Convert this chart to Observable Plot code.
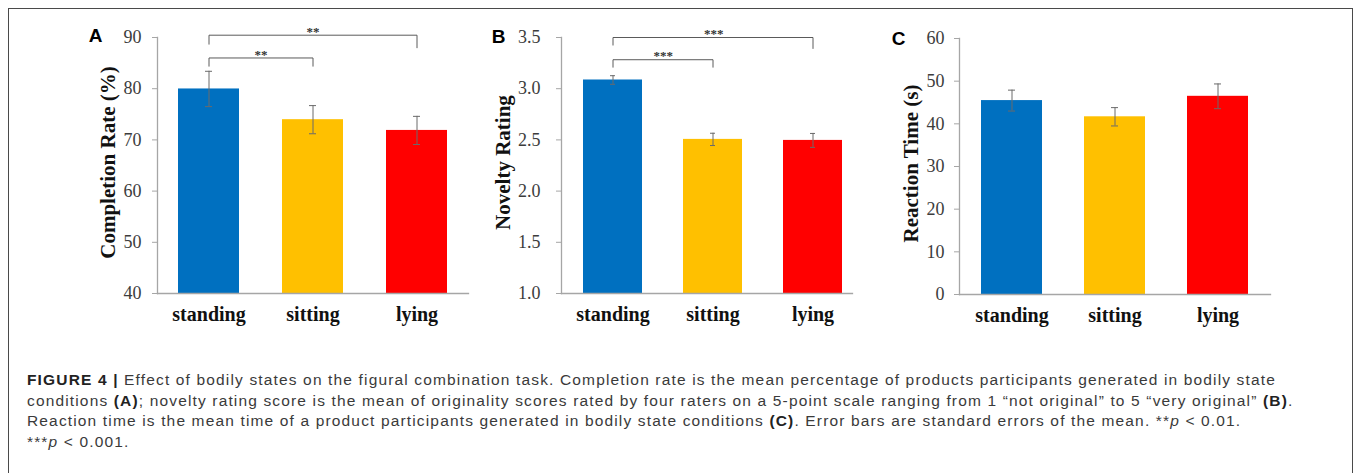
<!DOCTYPE html>
<html>
<head>
<meta charset="utf-8">
<script src="https://cdn.jsdelivr.net/npm/d3@7"></script>
<script src="https://cdn.jsdelivr.net/npm/@observablehq/plot@0.6"></script>
<style>
  html, body { margin: 0; padding: 0; background: #fff; }
  #root { position: relative; width: 1357px; height: 473px; overflow: hidden; background: #fff; }
  #border { position: absolute; left: 8px; top: 8px; width: 1345px; height: 490px; border: 1.5px solid #4a4a4a; box-sizing: border-box; }
  .panel { position: absolute; top: 0; }
  .panel svg { overflow: visible; }
  #caption { position: absolute; left: 27px; top: 370px; font-family: "Liberation Sans", Arial, sans-serif; font-size: 15.5px; line-height: 20.5px; color: #3a3a3a; white-space: nowrap; }
  #caption .ln { display: block; }
  #caption .ln span { display: inline-block; }
  #caption b { color: #222; }
</style>
</head>
<body>
<div id="root">
  <div id="border"></div>
  <div id="pA" class="panel" style="left:50px"></div>
  <div id="pB" class="panel" style="left:470px"></div>
  <div id="pC" class="panel" style="left:880px"></div>
  <div id="caption">
    <div class="ln"><span id="ln1"><b>FIGURE 4 |</b> Effect of bodily states on the figural combination task. Completion rate is the mean percentage of products participants generated in bodily state</span></div>
    <div class="ln"><span>conditions <b>(A)</b>; novelty rating score is the mean of originality scores rated by four raters on a 5-point scale ranging from 1 “not original” to 5 “very original” <b>(B)</b>.</span></div>
    <div class="ln"><span>Reaction time is the mean time of a product participants generated in bodily state conditions <b>(C)</b>. Error bars are standard errors of the mean. **<i>p</i> &lt; 0.01.</span></div>
    <div class="ln"><span>***<i>p</i> &lt; 0.001.</span></div>
  </div>
</div>
<script>
// ---------------- data ----------------
const categories = ["standing", "sitting", "lying"];
const barColors = ["#0070C0", "#FFC000", "#FF0000"];

const completionRate = [79.95, 73.95, 71.85];
const completionErr = [3.45, 2.75, 2.75];
const completionTicks = [40, 50, 60, 70, 80, 90];

const noveltyRating = [3.085, 2.505, 2.495];
const noveltyErr = [0.042, 0.06, 0.068];
const noveltyTicks = [1.0, 1.5, 2.0, 2.5, 3.0, 3.5];

const reactionTime = [45.45, 41.65, 46.45];
const reactionErr = [2.45, 2.15, 2.9];
const reactionTicks = [0, 10, 20, 30, 40, 50, 60];

const completionSig = [
  {from: "standing", to: "sitting", level: 86.0, leftEnd: 84.4, rightEnd: 84.4, label: "**"},
  {from: "standing", to: "lying", level: 90.45, leftEnd: 88.7, rightEnd: 88.0, label: "**"}
];
const noveltySig = [
  {from: "standing", to: "sitting", level: 3.283, leftEnd: 3.21, rightEnd: 3.21, label: "***"},
  {from: "standing", to: "lying", level: 3.5, leftEnd: 3.426, rightEnd: 3.393, label: "***"}
];
const reactionSig = [];

const titles = ["Completion Rate (%)", "Novelty Rating", "Reaction Time (s)"];
const letters = ["A", "B", "C"];

// ---------------- drawing ----------------
const axisGray = "#a6a6a6";
const errGray = "#6a6a6a";
const serif = "'Liberation Serif', 'Times New Roman', serif";

function panel(o) {
  const rows = categories.map((c, i) => ({cat: c, value: o.values[i], err: o.errors[i]}));
  const xOpts = {domain: categories, type: "band", paddingInner: 0.41, paddingOuter: o.paddingOuter, align: o.align};
  const xs = Plot.scale({x: {...xOpts, range: [o.marginLeft, o.width - o.marginRight]}});
  const bracketPts = o.sig.flatMap((s, k) => [
    {k, x: s.from, y: s.leftEnd}, {k, x: s.from, y: s.level},
    {k, x: s.to, y: s.level}, {k, x: s.to, y: s.rightEnd}
  ]);
  const sigText = o.sig.map(s => Plot.text([s], {
    x: "from", y: "level", text: "label",
    dx: (xs.apply(s.to) - xs.apply(s.from)) / 2, dy: -3.5,
    fontSize: 13, fontWeight: "bold", fontFamily: serif, fill: "#333", textAnchor: "middle", lineAnchor: "middle"
  }));
  const capInset = 27;
  return Plot.plot({
    width: o.width, height: 345,
    marginLeft: o.marginLeft, marginRight: o.marginRight,
    marginTop: o.marginTop, marginBottom: o.marginBottom,
    style: {fontFamily: serif, background: "transparent", overflow: "visible"},
    x: {...xOpts, label: null, axis: null},
    y: {domain: o.yDomain, label: null, axis: null},
    color: {domain: categories, range: barColors},
    marks: [
      Plot.barY(rows, {x: "cat", y1: o.yDomain[0], y2: "value", fill: "cat"}),
      Plot.ruleX(rows, {x: "cat", y1: d => d.value - d.err, y2: d => d.value + d.err, stroke: errGray, strokeWidth: 1}),
      Plot.tickY(rows, {x: "cat", y: d => d.value + d.err, stroke: errGray, insetLeft: capInset, insetRight: capInset}),
      Plot.tickY(rows, {x: "cat", y: d => d.value - d.err, stroke: errGray, insetLeft: capInset, insetRight: capInset}),
      Plot.frame({anchor: "left", stroke: axisGray, strokeWidth: 1.3}),
      Plot.frame({anchor: "bottom", stroke: axisGray, strokeWidth: 1.3}),
      Plot.axisY({ticks: o.ticks, tickFormat: o.tickFormat, tickSize: 5, tickPadding: o.tickPadding,
        stroke: axisGray, fill: "#3c3c3c", fontSize: 18, fontFamily: serif, label: null}),
      Plot.axisX({tickSize: 0, tickPadding: 13, fill: "#111", fontSize: 20, fontWeight: "bold", fontFamily: serif, label: null}),
      Plot.line(bracketPts, {x: "x", y: "y", z: "k", stroke: "#5a5a5a", strokeWidth: 1}),
      ...sigText,
      Plot.text([o.title], {frameAnchor: "left", dx: o.titleDx, dy: -3, rotate: -90, text: d => d,
        fontSize: 21, fontWeight: "bold", fontFamily: serif, fill: "#111", textAnchor: "middle", lineAnchor: "middle"}),
      Plot.text([o.letter], {frameAnchor: "top-left", dx: o.letterDx, dy: o.letterDy, text: d => d,
        fontSize: 19, fontWeight: "bold", fontFamily: "'Liberation Sans', Arial, sans-serif", fill: "#000",
        textAnchor: "middle", lineAnchor: "middle"})
    ]
  });
}

document.getElementById("pA").append(panel({
  values: completionRate, errors: completionErr, yDomain: [40, 90], ticks: completionTicks, tickFormat: d => String(d),
  sig: completionSig, title: titles[0], letter: letters[0],
  width: 430, marginLeft: 107, marginRight: 12, marginTop: 37, marginBottom: 52,
  paddingOuter: 0.2, align: 0.5, tickPadding: 11, titleDx: -49, letterDx: -62, letterDy: -2
}));
document.getElementById("pB").append(panel({
  values: noveltyRating, errors: noveltyErr, yDomain: [1.0, 3.5], ticks: noveltyTicks, tickFormat: d3.format(".1f"),
  sig: noveltySig, title: titles[1], letter: letters[1],
  width: 400, marginLeft: 91, marginRight: 18, marginTop: 37, marginBottom: 52,
  paddingOuter: 0.15, align: 0.69, tickPadding: 16, titleDx: -58, letterDx: -63, letterDy: -1
}));
document.getElementById("pC").append(panel({
  values: reactionTime, errors: reactionErr, yDomain: [0, 60], ticks: reactionTicks, tickFormat: d => String(d),
  sig: reactionSig, title: titles[2], letter: letters[2],
  width: 400, marginLeft: 79, marginRight: 10, marginTop: 38, marginBottom: 51,
  paddingOuter: 0.21, align: 0.5, tickPadding: 10, titleDx: -48, letterDx: -61, letterDy: 0
}));

// fit caption tracking to the reference line length
(function fitCaption() {
  const l1 = document.getElementById("ln1");
  const w = l1.getBoundingClientRect().width;
  const n = l1.textContent.length;
  const target = 1249;
  const ls = (target - w) / n;
  document.getElementById("caption").style.letterSpacing = ls.toFixed(3) + "px";
})();
</script>
</body>
</html>
